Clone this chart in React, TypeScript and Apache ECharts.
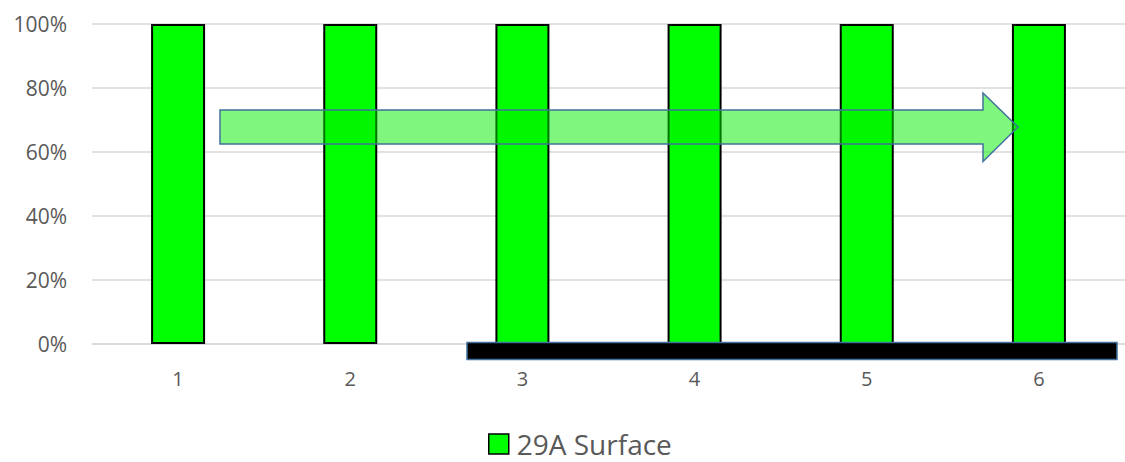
import React, { useEffect, useRef } from "react";
import * as echarts from "echarts";

// Chart data
const categories = ["1", "2", "3", "4", "5", "6"];
const surfaceValues = [1, 1, 1, 1, 1, 1];
const seriesName = "29A Surface";
const yTicks = { min: 0, max: 1, interval: 0.2 };

const FONT = "'Open Sans', 'Noto Sans', sans-serif";
const TEXT = "#595959";

export default function App() {
  const ref = useRef<HTMLDivElement>(null);

  useEffect(() => {
    if (!ref.current) return;
    const chart = echarts.init(ref.current, undefined, { renderer: "svg" });

    chart.setOption({
      animation: false,
      backgroundColor: "#ffffff",
      textStyle: { fontFamily: FONT },
      grid: { left: 92, right: 0, top: 24, bottom: 118, containLabel: false },
      legend: {
        data: [{ name: seriesName, icon: "rect" }],
        left: 483,
        top: 421,
        itemWidth: 20,
        itemHeight: 20,
        itemGap: 10,
        textStyle: {
          color: TEXT,
          fontSize: 28,
          lineHeight: 36,
          fontFamily: FONT,
          padding: [0, 0, 0, 3],
        },
        itemStyle: { borderColor: "#000000", borderWidth: 1.5 },
      },
      xAxis: {
        type: "category",
        data: categories,
        axisLine: { show: true, lineStyle: { color: "#d9d9d9", width: 1.5 } },
        axisTick: { show: false },
        axisLabel: { color: TEXT, fontSize: 20, margin: 24, fontFamily: FONT },
      },
      yAxis: {
        type: "value",
        min: yTicks.min,
        max: yTicks.max,
        interval: yTicks.interval,
        axisLine: { show: false },
        axisTick: { show: false },
        splitLine: { lineStyle: { color: "#d9d9d9", width: 1.5 } },
        axisLabel: {
          color: TEXT,
          fontSize: 21,
          margin: 25,
          fontFamily: FONT,
          formatter: (v: number) => `${Math.round(v * 100)}%`,
        },
      },
      series: [
        {
          name: seriesName,
          type: "bar",
          data: surfaceValues,
          barWidth: 54,
          itemStyle: { color: "#00ff00", borderColor: "#000000", borderWidth: 2 },
        },
      ],
      graphic: [
        {
          type: "rect",
          z: 100,
          shape: { x: 467, y: 342.5, width: 650, height: 17 },
          style: { fill: "#000000", stroke: "#41719c", lineWidth: 1.5 },
        },
        {
          type: "polygon",
          z: 101,
          shape: {
            points: [
              [220, 110],
              [983, 110],
              [983, 93],
              [1018, 127],
              [983, 161.5],
              [983, 144],
              [220, 144],
            ],
          },
          style: { fill: "rgba(0, 240, 0, 0.5)", stroke: "#41719c", lineWidth: 1.5 },
        },
      ],
    });

    return () => chart.dispose();
  }, []);

  return (
    <div
      ref={ref}
      style={{ position: "fixed", left: 0, top: 0, width: 1125, height: 462, background: "#fff" }}
    />
  );
}
